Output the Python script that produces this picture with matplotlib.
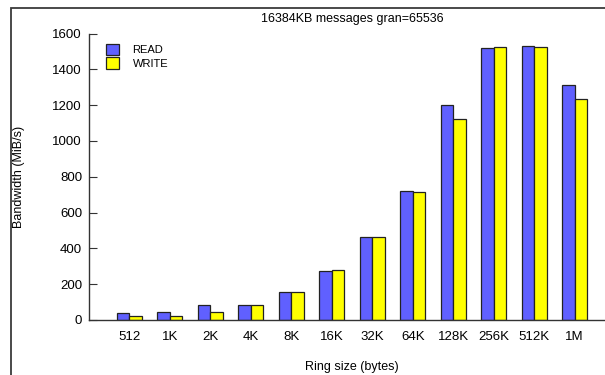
import matplotlib
matplotlib.use("Agg")
import matplotlib.pyplot as plt
import numpy as np
from matplotlib.patches import Rectangle

plt.rcParams['font.family'] = ['Liberation Sans', 'DejaVu Sans']

ring_sizes = ["512", "1K", "2K", "4K", "8K", "16K", "32K", "64K", "128K", "256K", "512K", "1M"]
read_bw = [41, 42, 82, 82, 156, 275, 464, 719, 1199, 1521, 1529, 1313]
write_bw = [22, 21, 43, 83, 156, 279, 464, 717, 1121, 1523, 1523, 1235]

fig = plt.figure(figsize=(6.05, 3.75), dpi=100)
# outer frame
fig.patches.append(Rectangle((11 / 605, -0.1), 1.2, 1.1 - 8 / 375, transform=fig.transFigure,
                             fill=False, edgecolor="#3a3a3a", linewidth=1.3, zorder=0))

ax = fig.add_axes([89 / 605, 1 - 320 / 375, (615 - 89) / 605, (320 - 33.5) / 375])
x = np.arange(len(ring_sizes))
w = 0.31
ax.bar(x - w / 2, read_bw, w, color="#6060FF", edgecolor="#222222", linewidth=0.9, label="READ")
ax.bar(x + w / 2, write_bw, w, color="#FFFF00", edgecolor="#222222", linewidth=0.9, label="WRITE")

ax.set_xlim(-1, 12)
ax.set_ylim(0, 1600)
ax.set_yticks(range(0, 1601, 200))
ax.set_xticks(x)
ax.set_xticklabels(ring_sizes)
for s in ("top", "right"):
    ax.spines[s].set_visible(False)
for s in ("left", "bottom"):
    ax.spines[s].set_color("#333333")
    ax.spines[s].set_linewidth(1.0)
ax.tick_params(axis="y", direction="in", length=6, color="#333333", labelsize=9.5, pad=5)
ax.tick_params(axis="x", length=0, labelsize=9.5, pad=8)

ax.set_title("16384KB messages gran=65536", fontsize=9, pad=8)
ax.set_ylabel("Bandwidth (MiB/s)", fontsize=9, labelpad=20)
ax.set_xlabel("Ring size (bytes)", fontsize=9, labelpad=13)

leg = ax.legend(loc="upper left", bbox_to_anchor=(0.013, 1.0), frameon=False, fontsize=8,
                handlelength=1.2, handleheight=1.2, handletextpad=1.2, labelspacing=0.2)

fig.savefig("out.png", dpi=100)
